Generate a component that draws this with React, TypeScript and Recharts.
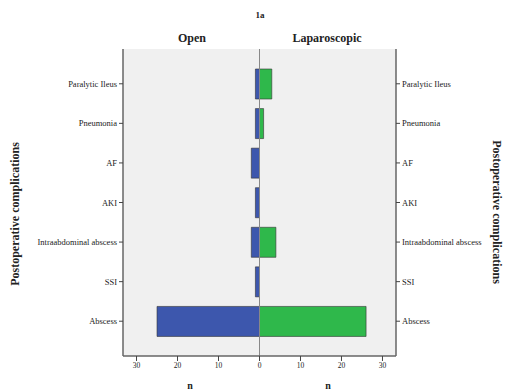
import { BarChart, Bar, XAxis, YAxis, CartesianGrid, ReferenceLine } from 'recharts';

const complications = ['Paralytic Ileus', 'Pneumonia', 'AF', 'AKI', 'Intraabdominal abscess', 'SSI', 'Abscess'];
const openCounts = [1, 1, 2, 1, 2, 1, 25];
const lapCounts = [3, 1, 0, 0, 4, 0, 26];
const xTicks = [-30, -20, -10, 0, 10, 20, 30];

const data = complications.map((name, i) => ({
  name,
  open: -openCounts[i],
  lap: lapCounts[i],
}));

const FONT = '"Liberation Serif", "DejaVu Serif", serif';
const tickStyle = { fill: '#222', fontSize: 7.5, fontFamily: FONT };

// category ticks drawn by hand so long names stay on one line
const CatTick = ({ x, y, payload, anchor }: { x?: number; y?: number; payload?: { value: string }; anchor: 'start' | 'end' }) => (
  <text
    x={x}
    y={y}
    dy={3}
    textAnchor={anchor}
    fill="#222"
    fontSize={8.5}
    fontFamily={FONT}
  >
    {payload?.value}
  </text>
);

const overlay = (style: React.CSSProperties): React.CSSProperties => ({
  position: 'absolute',
  fontFamily: FONT,
  color: '#222',
  whiteSpace: 'nowrap',
  ...style,
});

export default function App() {
  return (
    <div style={{ position: 'absolute', left: 0, top: 0, width: 507, height: 390, background: '#fff' }}>
      <BarChart
        width={507}
        height={390}
        data={data}
        layout="vertical"
        margin={{ top: 49, right: 11, bottom: 14, left: 13 }}
      >
        <CartesianGrid fill="#f0f0f0" horizontal={false} vertical={false} />
        <XAxis
          type="number"
          domain={[-33.3, 33.3]}
          ticks={xTicks}
          tickFormatter={(v: number) => String(Math.abs(v))}
          tick={tickStyle}
          axisLine={{ stroke: '#666', strokeWidth: 1.5 }}
          tickLine={{ stroke: '#444' }}
          tickSize={5}
          height={20}
        />
        <XAxis
          xAxisId="top"
          orientation="top"
          type="number"
          domain={[-33.3, 33.3]}
          tick={false}
          tickLine={false}
          axisLine={{ stroke: '#666', strokeWidth: 1.5 }}
          height={0}
        />
        <YAxis
          yAxisId="left"
          type="category"
          dataKey="name"
          width={110}
          tick={<CatTick anchor="end" />}
          axisLine={{ stroke: '#666', strokeWidth: 1.5 }}
          tickLine={{ stroke: '#444' }}
          tickSize={4}
          padding={{ top: 15, bottom: 15 }}
          interval={0}
        />
        <YAxis
          yAxisId="right"
          orientation="right"
          type="category"
          dataKey="name"
          width={100}
          tick={<CatTick anchor="start" />}
          axisLine={{ stroke: '#666', strokeWidth: 1.5 }}
          tickLine={{ stroke: '#444' }}
          tickSize={4}
          padding={{ top: 15, bottom: 15 }}
          interval={0}
        />
        <Bar
          yAxisId="left"
          dataKey="open"
          fill="#3d57ad"
          stroke="#333"
          strokeWidth={0.6}
          barSize={30}
          isAnimationActive={false}
        />
        <Bar
          yAxisId="right"
          dataKey="lap"
          fill="#2fb84b"
          stroke="#333"
          strokeWidth={0.6}
          barSize={30}
          isAnimationActive={false}
        />
        <ReferenceLine yAxisId="left" x={0} stroke="#888" strokeWidth={1} />
      </BarChart>
      <div style={overlay({ left: 260, top: 15, fontSize: 9, fontWeight: 'bold', transform: 'translate(-50%, -50%)' })}>1a</div>
      <div style={overlay({ left: 192, top: 38, fontSize: 12, fontWeight: 'bold', transform: 'translate(-50%, -50%)' })}>Open</div>
      <div style={overlay({ left: 327, top: 38, fontSize: 12, fontWeight: 'bold', transform: 'translate(-50%, -50%)' })}>Laparoscopic</div>
      <div style={overlay({ left: 190, top: 385, fontSize: 10, fontWeight: 'bold', transform: 'translate(-50%, -50%)' })}>n</div>
      <div style={overlay({ left: 328, top: 385, fontSize: 10, fontWeight: 'bold', transform: 'translate(-50%, -50%)' })}>n</div>
      <div
        style={overlay({
          left: 15,
          top: 214,
          fontSize: 12,
          fontWeight: 'bold',
          transform: 'translate(-50%, -50%) rotate(-90deg)',
        })}
      >
        Postoperative complications
      </div>
      <div
        style={overlay({
          left: 496,
          top: 212,
          fontSize: 12,
          fontWeight: 'bold',
          transform: 'translate(-50%, -50%) rotate(90deg)',
        })}
      >
        Postoperative complications
      </div>
    </div>
  );
}
